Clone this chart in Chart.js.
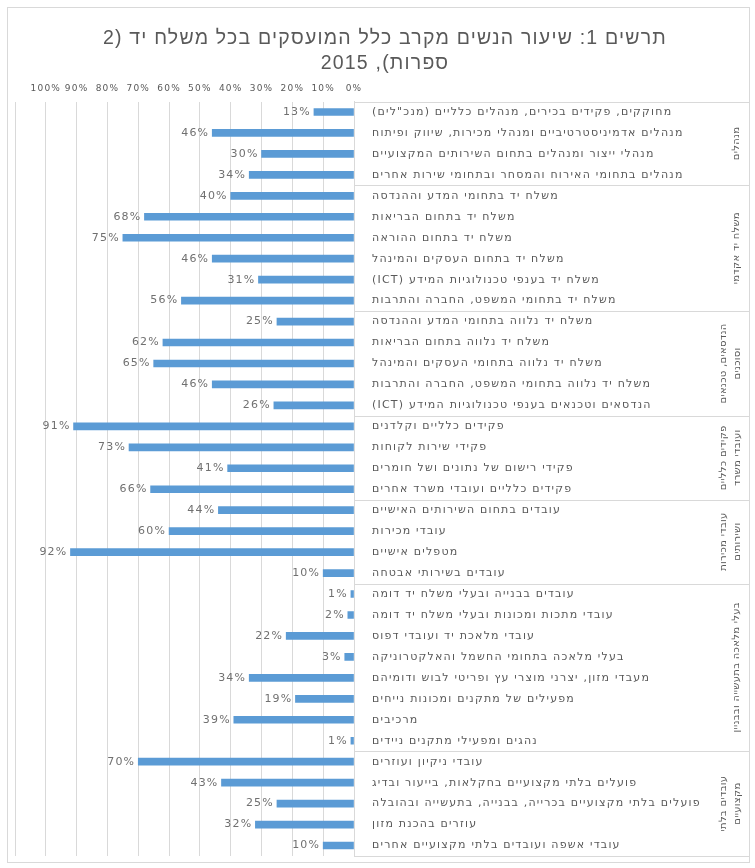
<!DOCTYPE html>
<html lang="he">
<head>
<meta charset="utf-8">
<script src="https://cdn.jsdelivr.net/npm/chart.js@4.4.1/dist/chart.umd.min.js"></script>
<style>
  html, body { margin: 0; padding: 0; background: #fff; }
  canvas { display: block; }
</style>
</head>
<body>
<canvas id="chart" width="755" height="868" dir="rtl"></canvas>
<script>
const titleLines = ['תרשים 1: שיעור הנשים מקרב כלל המועסקים בכל משלח יד (2', 'ספרות), 2015'];

// occupations, top to bottom
const categories = [
  'מחוקקים, פקידים בכירים, מנהלים כלליים (מנכ"לים)',
  'מנהלים אדמיניסטרטיביים ומנהלי מכירות, שיווק ופיתוח',
  'מנהלי ייצור ומנהלים בתחום השירותים המקצועיים',
  'מנהלים בתחומי האירוח והמסחר ובתחומי שירות אחרים',
  'משלח יד בתחומי המדע וההנדסה',
  'משלח יד בתחום הבריאות',
  'משלח יד בתחום ההוראה',
  'משלח יד בתחום העסקים והמינהל',
  'משלח יד בענפי טכנולוגיות המידע (ICT)',
  'משלח יד בתחומי המשפט, החברה והתרבות',
  'משלח יד נלווה בתחומי המדע וההנדסה',
  'משלח יד נלווה בתחום הבריאות',
  'משלח יד נלווה בתחומי העסקים והמינהל',
  'משלח יד נלווה בתחומי המשפט, החברה והתרבות',
  'הנדסאים וטכנאים בענפי טכנולוגיות המידע (ICT)',
  'פקידים כלליים וקלדנים',
  'פקידי שירות לקוחות',
  'פקידי רישום של נתונים ושל חומרים',
  'פקידים כלליים ועובדי משרד אחרים',
  'עובדים בתחום השירותים האישיים',
  'עובדי מכירות',
  'מטפלים אישיים',
  'עובדים בשירותי אבטחה',
  'עובדים בבנייה ובעלי משלח יד דומה',
  'עובדי מתכות ומכונות ובעלי משלח יד דומה',
  'עובדי מלאכת יד ועובדי דפוס',
  'בעלי מלאכה בתחומי החשמל והאלקטרוניקה',
  'מעבדי מזון, יצרני מוצרי עץ ופריטי לבוש ודומיהם',
  'מפעילים של מתקנים ומכונות נייחים',
  'מרכיבים',
  'נהגים ומפעילי מתקנים ניידים',
  'עובדי ניקיון ועוזרים',
  'פועלים בלתי מקצועיים בחקלאות, בייעור ובדיג',
  'פועלים בלתי מקצועיים בכרייה, בבנייה, בתעשייה ובהובלה',
  'עוזרים בהכנת מזון',
  'עובדי אשפה ועובדים בלתי מקצועיים אחרים'
];

// share of women, %
const shares = [
  13, 46, 30, 34,
  40, 68, 75, 46, 31, 56,
  25, 62, 65, 46, 26,
  91, 73, 41, 66,
  44, 60, 92, 10,
  1, 2, 22, 3, 34, 19, 39, 1,
  70, 43, 25, 32, 10
];

const groupLabels = [
  ['מנהלים'],
  ['משלח יד אקדמי'],
  ['הנדסאים, טכנאים', 'וסוכנים'],
  ['פקידים כלליים', 'ועובדי משרד'],
  ['עובדי מכירות', 'ושירותים'],
  ['בעלי מלאכה בתעשייה ובבניין'],
  ['עובדים בלתי', 'מקצועיים']
];
const groupSizes = [4, 6, 5, 4, 4, 8, 5];

const gridColor = '#d9d9d9';
const textColor = '#595959';

const frame = {
  id: 'frame',
  beforeDraw(chart) {
    const ctx = chart.ctx;
    ctx.save();
    ctx.fillStyle = '#fff';
    ctx.fillRect(0, 0, chart.width, chart.height);
    ctx.strokeStyle = gridColor;
    ctx.lineWidth = 1;
    ctx.strokeRect(7.5, 7.5, chart.width - 13, chart.height - 13);
    ctx.restore();
    // the original's text is set a little wide
    ctx.letterSpacing = '1.2px';
  }
};

const valueLabels = {
  id: 'valueLabels',
  afterDatasetsDraw(chart) {
    const ctx = chart.ctx;
    ctx.save();
    ctx.font = '11px "DejaVu Sans"';
    ctx.fillStyle = '#707070';
    ctx.textAlign = 'right';
    ctx.textBaseline = 'middle';
    chart.getDatasetMeta(0).data.forEach((bar, i) => {
      ctx.fillText(shares[i] + '%', bar.x - 3, bar.y);
    });
    ctx.restore();
  }
};

const groupAxis = {
  id: 'groupAxis',
  afterDraw(chart) {
    const { ctx, chartArea, scales: { y } } = chart;
    const right = chart.width - 6;
    const lineAt = idx => Math.round(y.getPixelForValue(idx - 0.5)) + 0.5;
    ctx.save();
    ctx.strokeStyle = gridColor;
    ctx.lineWidth = 1;
    ctx.beginPath();
    ctx.moveTo(chartArea.right, lineAt(0));
    ctx.lineTo(right, lineAt(0));
    let start = 0;
    groupSizes.forEach(n => {
      start += n;
      ctx.moveTo(chartArea.right, lineAt(start));
      ctx.lineTo(right, lineAt(start));
    });
    ctx.stroke();

    ctx.fillStyle = textColor;
    ctx.font = '10px "DejaVu Sans"';
    ctx.letterSpacing = '0.3px';
    ctx.textAlign = 'center';
    ctx.textBaseline = 'middle';
    start = 0;
    groupSizes.forEach((n, g) => {
      const mid = (y.getPixelForValue(start) + y.getPixelForValue(start + n - 1)) / 2;
      const lines = groupLabels[g];
      ctx.save();
      ctx.translate(lines.length > 1 ? 730 : 736, mid);
      ctx.rotate(-Math.PI / 2);
      lines.forEach((t, k) => {
        ctx.fillText(t, 0, (k - (lines.length - 1) / 2) * 14);
      });
      ctx.restore();
      start += n;
    });
    ctx.restore();
  }
};

new Chart(document.getElementById('chart'), {
  type: 'bar',
  data: {
    labels: categories,
    datasets: [{
      data: shares,
      backgroundColor: '#5b9bd5',
      barThickness: 7
    }]
  },
  options: {
    indexAxis: 'y',
    responsive: false,
    animation: false,
    layout: { padding: { left: 15, right: 0, top: 0, bottom: 12 } },
    plugins: {
      legend: { display: false },
      tooltip: { enabled: false },
      title: {
        display: true,
        text: titleLines,
        color: textColor,
        font: { family: '"Liberation Sans", Arial, sans-serif', size: 19.5, weight: 'normal', lineHeight: 1.3 },
        padding: { top: 26, bottom: 0 }
      }
    },
    scales: {
      x: {
        position: 'top',
        reverse: true,
        min: 0,
        max: 110,
        grid: { color: gridColor, drawTicks: false },
        border: { display: false },
        ticks: {
          stepSize: 10,
          padding: 7,
          color: textColor,
          maxRotation: 0,
          autoSkip: false,
          font: { family: '"DejaVu Sans"', size: 9 },
          callback: v => v > 100 ? '' : v + '%'
        }
      },
      y: {
        position: 'right',
        grid: { display: false },
        border: { color: gridColor },
        ticks: {
          padding: 10,
          color: textColor,
          autoSkip: false,
          font: { family: '"DejaVu Sans"', size: 11 }
        },
        afterFit: s => {
          s.width = 401;
          s.paddingTop = 0;
          s.paddingBottom = 0;
        }
      }
    }
  },
  plugins: [frame, valueLabels, groupAxis]
});
</script>
</body>
</html>
